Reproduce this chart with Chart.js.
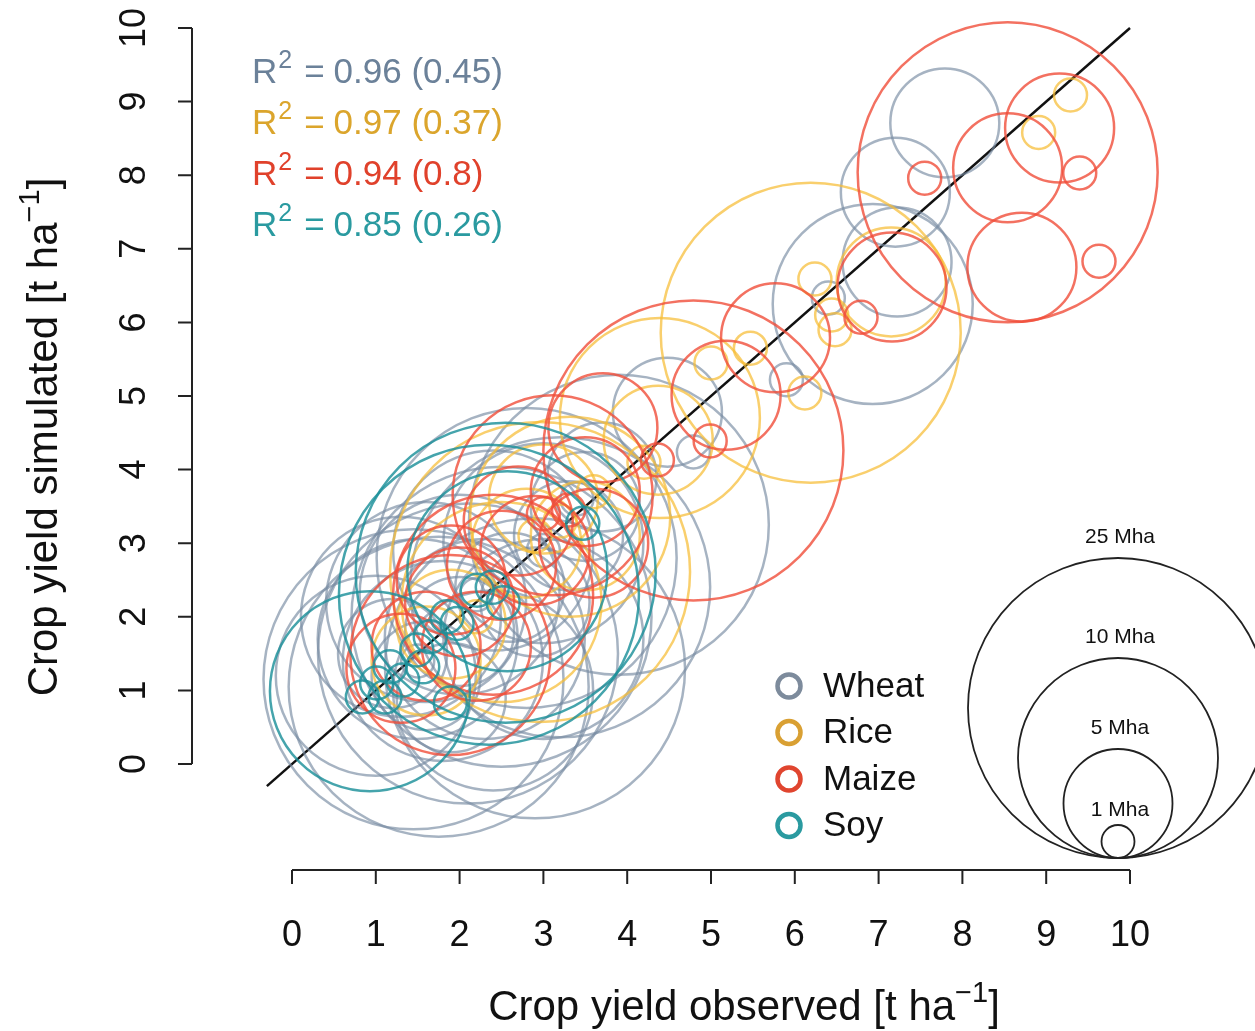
<!DOCTYPE html>
<html>
<head>
<meta charset="utf-8">
<script src="https://cdn.jsdelivr.net/npm/chart.js@4.4.0/dist/chart.umd.min.js"></script>
<style>
  body { margin: 0; background: #fff; }
  #wrap { width: 1255px; height: 1031px; }
</style>
</head>
<body>
<div id="wrap"><canvas id="yieldChart" width="1255" height="1031"></canvas></div>
<script>
// Observed vs simulated yield per country, circle size = harvested area class (Mha)
const axisTicks = [0, 1, 2, 3, 4, 5, 6, 7, 8, 9, 10];
const oneToOne = [-0.3, 10];

const wheatObs  = [7.79, 7.20, 6.93, 7.22, 6.40, 5.90, 4.48, 4.79, 3.90, 1.45, 1.75, 2.10, 2.50, 2.80, 3.20, 2.90, 1.00, 1.50, 2.00, 2.40, 3.00, 1.80, 2.30, 3.00, 1.60, 1.30, 2.40, 1.20, 1.60, 2.00, 2.60, 3.30, 3.70, 1.90, 2.90, 3.50, 2.20, 3.00, 1.50, 3.40];
const wheatSim  = [8.71, 7.77, 6.25, 6.82, 6.33, 5.22, 4.78, 4.24, 3.25, 1.15, 1.05, 1.50, 2.00, 2.80, 2.40, 1.30, 1.20, 1.70, 2.30, 2.90, 3.00, 1.40, 1.70, 1.70, 2.20, 2.00, 1.00, 1.50, 1.20, 1.80, 2.40, 3.10, 3.90, 0.90, 2.20, 3.50, 2.30, 2.90, 1.40, 3.60];
const wheatArea = [5, 5, 10, 5, 1, 1, 5, 1, 25, 25, 25, 25, 25, 25, 25, 25, 10, 10, 10, 10, 10, 10, 10, 10, 10, 10, 10, 5, 5, 5, 5, 5, 5, 5, 5, 5, 1, 1, 1, 1];

const riceObs  = [6.19, 7.15, 6.24, 6.44, 6.48, 6.12, 5.47, 5.00, 9.29, 8.91, 4.37, 4.39, 3.32, 2.96, 2.50, 3.00, 3.50, 2.80, 1.90, 1.60, 3.20, 2.90, 2.20, 3.60, 4.20];
const riceSim  = [5.86, 6.55, 6.59, 6.10, 5.90, 5.04, 5.65, 5.45, 9.09, 8.58, 4.40, 4.70, 3.36, 2.61, 2.20, 3.60, 3.10, 3.00, 1.90, 1.40, 3.30, 3.10, 2.00, 3.70, 4.10];
const riceArea = [25, 5, 1, 1, 1, 1, 1, 1, 1, 1, 5, 10, 10, 25, 10, 5, 5, 5, 5, 5, 1, 1, 1, 1, 1];

const maizeObs  = [8.54, 8.54, 9.16, 9.40, 7.55, 8.71, 9.63, 7.16, 6.79, 5.77, 5.18, 4.99, 4.36, 4.79, 3.71, 1.89, 2.40, 3.11, 2.90, 3.00, 3.30, 2.00, 1.60, 2.50, 3.50, 2.20, 3.60, 1.90, 1.30, 2.70];
const maizeSim  = [8.04, 8.10, 8.64, 8.03, 7.96, 6.75, 6.83, 6.48, 6.07, 5.79, 5.01, 4.39, 4.13, 4.26, 4.57, 1.48, 2.30, 3.65, 2.90, 3.40, 3.45, 2.20, 1.60, 2.70, 3.70, 1.60, 3.00, 2.50, 1.30, 3.30];
const maizeArea = [25, 5, 5, 1, 1, 5, 1, 5, 1, 5, 5, 1, 1, 25, 5, 10, 10, 10, 5, 1, 1, 5, 5, 5, 5, 5, 5, 5, 5, 5];

const soyObs  = [0.93, 2.55, 2.35, 2.57, 3.47, 2.39, 2.52, 2.21, 1.85, 1.97, 1.65, 1.49, 1.56, 1.32, 1.17, 1.01, 0.84, 1.11, 1.89];
const soySim  = [0.99, 2.60, 2.30, 2.62, 3.27, 2.40, 2.19, 2.36, 2.00, 1.91, 1.73, 1.55, 1.32, 1.14, 1.32, 1.10, 0.91, 0.91, 0.83];
const soyArea = [10, 25, 25, 10, 1, 1, 1, 1, 1, 1, 1, 1, 1, 1, 1, 1, 1, 1, 1];

const cropNames = ['Wheat', 'Rice', 'Maize', 'Soy'];
const r2Labels = ['0.96 (0.45)', '0.97 (0.37)', '0.94 (0.8)', '0.85 (0.26)'];
const sizeClasses = [25, 10, 5, 1];

const FONT = '"Liberation Sans", Arial, Helvetica, sans-serif';
const ringColors = ['rgba(120,140,163,0.66)', 'rgba(246,188,52,0.72)', 'rgba(240,78,58,0.8)', 'rgba(28,144,154,0.82)'];
const textColors = ['#6b8199', '#dba52c', '#e0412b', '#2a9aa0'];
const keyColors  = ['#7d8b9c', '#d9a033', '#e0452f', '#2a9aa0'];

// area class (Mha) -> circle radius in px
function radiusFor(area) {
  const a = [0, 1, 5, 10, 25], r = [0, 16.5, 54.5, 100, 150];
  for (let i = 1; i < a.length; i++) {
    if (area <= a[i]) return r[i - 1] + (area - a[i - 1]) / (a[i] - a[i - 1]) * (r[i] - r[i - 1]);
  }
  return r[4] + (area - 25) * 3.33;
}

function points(obs, sim, area) {
  return obs.map((v, i) => ({ x: v, y: sim[i], r: radiusFor(area[i]) }));
}

function ringSet(label, obs, sim, area, color, order) {
  return {
    type: 'bubble', label, order, clip: false,
    data: points(obs, sim, area),
    backgroundColor: 'rgba(0,0,0,0)', borderColor: color, borderWidth: 2.5
  };
}

// text with superscript parts, e.g. [['R'], ['2', true], ['= 0.96']]
function richWidth(ctx, parts, size) {
  return parts.reduce((w, p) => {
    ctx.font = (p[1] ? Math.round(size * 0.7) : size) + 'px ' + FONT;
    return w + ctx.measureText(p[0]).width + (p[2] || 0);
  }, 0);
}
function drawRich(ctx, parts, x, y, size, align) {
  let cx = align === 'center' ? x - richWidth(ctx, parts, size) / 2 : x;
  ctx.textAlign = 'left';
  ctx.textBaseline = 'alphabetic';
  parts.forEach(p => {
    const s = p[1] ? Math.round(size * 0.7) : size;
    ctx.font = s + 'px ' + FONT;
    ctx.fillText(p[0], cx, p[1] ? y - size * 0.42 : y);
    cx += ctx.measureText(p[0]).width + (p[2] || 0);
  });
}

const baseAxes = {
  id: 'baseAxes',
  afterDraw(chart) {
    const { ctx, chartArea: area, scales: { x, y } } = chart;
    const axY = area.bottom + 106, axX = area.left - 100;
    ctx.save();
    ctx.strokeStyle = '#222';
    ctx.lineWidth = 2;
    ctx.beginPath();
    ctx.moveTo(x.getPixelForValue(axisTicks[0]), axY);
    ctx.lineTo(x.getPixelForValue(axisTicks[axisTicks.length - 1]), axY);
    ctx.moveTo(axX, y.getPixelForValue(axisTicks[0]));
    ctx.lineTo(axX, y.getPixelForValue(axisTicks[axisTicks.length - 1]));
    axisTicks.forEach(t => {
      const px = x.getPixelForValue(t), py = y.getPixelForValue(t);
      ctx.moveTo(px, axY); ctx.lineTo(px, axY + 14);
      ctx.moveTo(axX, py); ctx.lineTo(axX - 14, py);
    });
    ctx.stroke();

    ctx.fillStyle = '#111';
    ctx.font = '36px ' + FONT;
    ctx.textAlign = 'center';
    ctx.textBaseline = 'middle';
    axisTicks.forEach(t => {
      ctx.fillText(String(t), x.getPixelForValue(t), axY + 66);
      ctx.save();
      ctx.translate(axX - 57, y.getPixelForValue(t));
      ctx.rotate(-Math.PI / 2);
      ctx.fillText(String(t), 0, 0);
      ctx.restore();
    });

    // axis titles
    drawRich(ctx, [['Crop yield observed [t ha'], ['\u22121', true], [']']], 744, 1020, 42, 'center');
    ctx.save();
    ctx.translate(57, 437);
    ctx.rotate(-Math.PI / 2);
    drawRich(ctx, [['Crop yield simulated [t ha'], ['\u22121', true], [']']], 0, 0, 42, 'center');
    ctx.restore();

    // R² per crop
    r2Labels.forEach((lab, i) => {
      ctx.fillStyle = textColors[i];
      drawRich(ctx, [['R', false, 1], ['2', true, 12], ['=', false, 9], [lab]], 252, 83 + i * 51, 35, 'left');
    });

    // crop key
    cropNames.forEach((name, i) => {
      const cy = 686 + i * 46.5;
      ctx.strokeStyle = keyColors[i];
      ctx.lineWidth = 4.5;
      ctx.beginPath();
      ctx.arc(789, cy, 11.5, 0, Math.PI * 2);
      ctx.stroke();
      ctx.fillStyle = '#111';
      ctx.font = '35px ' + FONT;
      ctx.textAlign = 'left';
      ctx.textBaseline = 'middle';
      ctx.fillText(name, 823, cy + 1);
    });

    // area key, circles resting on a common point
    const baseX = 1118, baseY = 858;
    ctx.strokeStyle = '#222';
    ctx.lineWidth = 1.8;
    ctx.fillStyle = '#111';
    ctx.font = '21px ' + FONT;
    ctx.textAlign = 'center';
    ctx.textBaseline = 'middle';
    sizeClasses.forEach(a => {
      const r = radiusFor(a);
      ctx.beginPath();
      ctx.arc(baseX, baseY - r, r, 0, Math.PI * 2);
      ctx.stroke();
      ctx.fillText(a + ' Mha', baseX + 2, baseY - 2 * r - (a === 1 ? 15 : 21));
    });
    ctx.restore();
  }
};

new Chart(document.getElementById('yieldChart'), {
  type: 'bubble',
  data: {
    datasets: [
      ringSet('Soy', soyObs, soySim, soyArea, ringColors[3], 1),
      ringSet('Maize', maizeObs, maizeSim, maizeArea, ringColors[2], 2),
      ringSet('Rice', riceObs, riceSim, riceArea, ringColors[1], 3),
      ringSet('Wheat', wheatObs, wheatSim, wheatArea, ringColors[0], 4),
      {
        type: 'line', label: '1:1', order: 5, clip: false,
        data: oneToOne.map(v => ({ x: v, y: v })),
        borderColor: '#111', borderWidth: 2.5, pointRadius: 0, fill: false
      }
    ]
  },
  options: {
    responsive: false,
    animation: false,
    events: [],
    layout: { autoPadding: false, padding: { left: 292, right: 125, top: 28, bottom: 267 } },
    plugins: { legend: { display: false }, tooltip: { enabled: false } },
    scales: {
      x: { type: 'linear', min: 0, max: 10, display: false },
      y: { type: 'linear', min: 0, max: 10, display: false }
    }
  },
  plugins: [baseAxes]
});
</script>
</body>
</html>
